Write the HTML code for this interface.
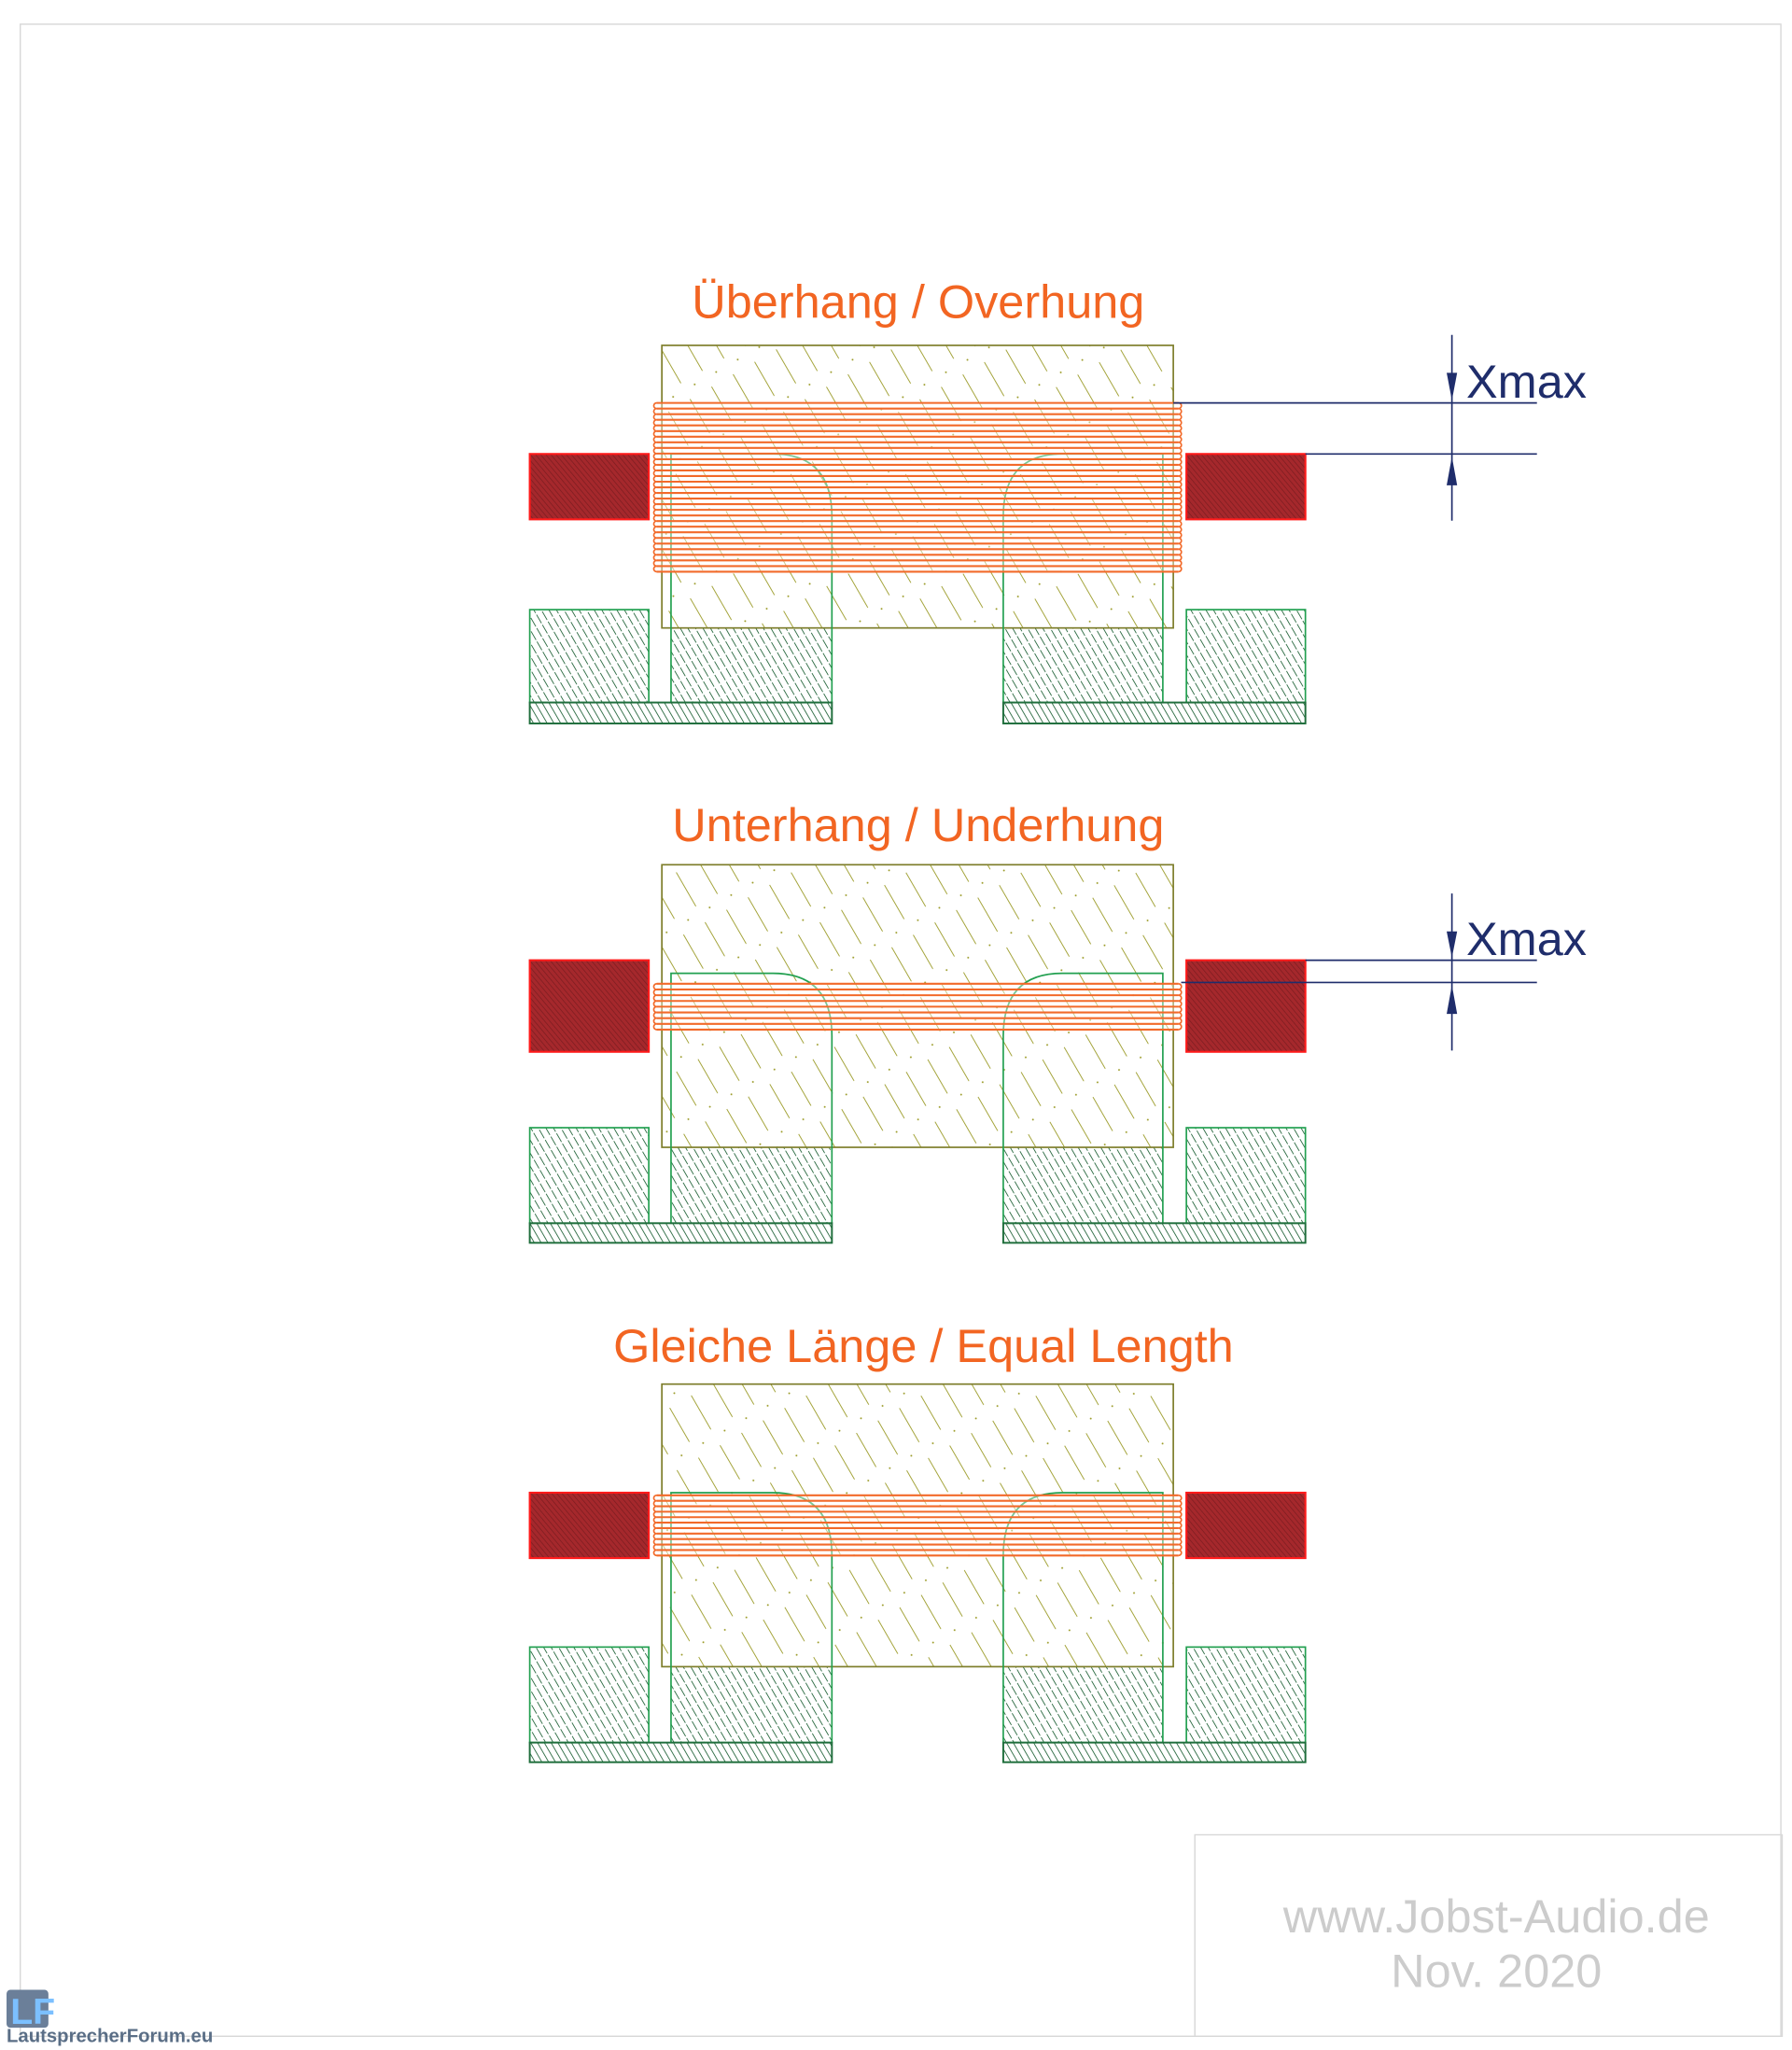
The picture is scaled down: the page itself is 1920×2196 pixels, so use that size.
<!DOCTYPE html>
<html><head><meta charset="utf-8">
<style>
html,body{margin:0;padding:0;background:#fff;}
svg{display:block;}
</style></head>
<body>
<svg id="s" width="1920" height="2196" viewBox="0 0 1370 1567" preserveAspectRatio="none" xmlns="http://www.w3.org/2000/svg">
<defs>
<pattern id="olive" patternUnits="userSpaceOnUse" width="19" height="44" patternTransform="rotate(-30)">
<line x1="0" y1="0" x2="0" y2="30" stroke="#9c9c2a" stroke-width="1.3"/>
<circle cx="9" cy="36" r="0.7" fill="#9c9c2a"/>
</pattern>
<pattern id="green" patternUnits="userSpaceOnUse" width="5" height="9" patternTransform="rotate(-30)">
<line x1="0" y1="0" x2="0" y2="7.5" stroke="#1a5e32" stroke-width="1.2"/>
</pattern>
<pattern id="green2" patternUnits="userSpaceOnUse" width="4.5" height="9" patternTransform="rotate(-30)">
<line x1="0" y1="0" x2="0" y2="9" stroke="#1a5e32" stroke-width="1.2"/>
</pattern>
<pattern id="red" patternUnits="userSpaceOnUse" width="3" height="3" patternTransform="rotate(-40)">
<rect width="3" height="3" fill="#a5282c"/>
<line x1="0" y1="0" x2="0" y2="3" stroke="#7a1c20" stroke-width="1"/>
</pattern>
</defs>
<rect x="0" y="0" width="1370" height="1567" fill="#fff"/>
<rect x="15.5" y="18.5" width="1346" height="1538" fill="none" stroke="#d8d8d8" stroke-width="1"/>
<rect x="913.5" y="1402.5" width="449" height="154" fill="none" stroke="#d8d8d8" stroke-width="1"/>
<g id="d"></g>
<g font-family="'Liberation Sans', sans-serif" font-size="36" fill="#f26522" text-anchor="middle">
<text x="702" y="243">Überhang / Overhung</text>
<text x="702" y="643">Unterhang / Underhung</text>
<text x="706" y="1041">Gleiche Länge / Equal Length</text>
</g>
<g font-family="'Liberation Sans', sans-serif" font-size="36" fill="#1f2d6b">
<text x="1121" y="304">Xmax</text>
<text x="1121" y="730">Xmax</text>
</g>
<g stroke="#1f2d6b" stroke-width="1.2" fill="none">
<line x1="897" y1="308" x2="1175" y2="308"/>
<line x1="998" y1="347" x2="1175" y2="347"/>
<line x1="1110" y1="256" x2="1110" y2="398"/>
<line x1="998" y1="734" x2="1175" y2="734"/>
<line x1="903" y1="751" x2="1175" y2="751"/>
<line x1="1110" y1="683" x2="1110" y2="803"/>
</g>
<g fill="#1f2d6b">
<polygon points="1106,285 1114,285 1110,306"/>
<polygon points="1106,371 1114,371 1110,349"/>
<polygon points="1106,712 1114,712 1110,732"/>
<polygon points="1106,775 1114,775 1110,753"/>
</g>
<g font-family="'Liberation Sans', sans-serif" font-size="36" fill="#cccccc" text-anchor="middle">
<text x="1144" y="1477">www.Jobst-Audio.de</text>
<text x="1144" y="1519">Nov. 2020</text>
</g>
<rect x="5" y="1521" width="32" height="29" rx="3" fill="#6b7f99"/>
<text x="8" y="1547" font-family="'Liberation Sans', sans-serif" font-weight="bold" font-size="28" fill="#7cc0ff">LF</text>
<text x="5" y="1561" font-family="'Liberation Sans', sans-serif" font-weight="bold" font-size="14.5" fill="#5a6e86">LautsprecherForum.eu</text>
</svg>
<script>
var g=document.getElementById('d');var h='';
var D=[[264,480,347,397,308,437,347,466,537,553],[661,877,734,804,752,787,744,862,935,950],[1058,1274,1141,1191,1143,1189,1141,1259,1332,1347]];
D.forEach(function(p){
var pt=p[0],pb=p[1],mt=p[2],mb=p[3],ct=p[4],cb=p[5],po=p[6],ot=p[7],bt=p[8],bb=p[9];
var L='M513,'+bt+' V'+po+' H591 Q636,'+po+' 636,'+(po+48)+' V'+bt+' Z';
var R='M889,'+bt+' V'+po+' H812 Q767,'+po+' 767,'+(po+48)+' V'+bt+' Z';
h+='<path d="'+L+'" fill="url(#green)"/><path d="'+R+'" fill="url(#green)"/>';
h+='<rect x="506" y="'+pt+'" width="391" height="'+(pb-pt)+'" fill="#fff"/>';
h+='<rect x="506" y="'+pt+'" width="391" height="'+(pb-pt)+'" fill="url(#olive)" stroke="#7d7d2a" stroke-width="1.2"/>';
h+='<path d="'+L+'" fill="none" stroke="#22a050" stroke-width="1.2"/><path d="'+R+'" fill="none" stroke="#22a050" stroke-width="1.2"/>';
var n=Math.max(2,Math.round((cb-ct)/4.3));var st=(cb-ct)/n;
h+='<rect x="500" y="'+ct+'" width="403" height="'+(cb-ct)+'" fill="#fff" fill-opacity="0.4"/>';
for(var i=0;i<=n;i++){var y=ct+i*st;h+='<line x1="502" y1="'+y+'" x2="901" y2="'+y+'" stroke="#f26a2a" stroke-width="1.5"/>';
if(i<n){h+='<path d="M502,'+y+' A2.2,'+(st/2)+' 0 0 0 502,'+(y+st)+'" fill="none" stroke="#f26a2a" stroke-width="1.2"/>';
h+='<path d="M901,'+y+' A2.2,'+(st/2)+' 0 0 1 901,'+(y+st)+'" fill="none" stroke="#f26a2a" stroke-width="1.2"/>';}}
h+='<rect x="405" y="'+mt+'" width="91" height="'+(mb-mt)+'" fill="url(#red)" stroke="#ff1a1a" stroke-width="1.5"/>';
h+='<rect x="907" y="'+mt+'" width="91" height="'+(mb-mt)+'" fill="url(#red)" stroke="#ff1a1a" stroke-width="1.5"/>';
h+='<rect x="405" y="'+ot+'" width="91" height="'+(bt-ot)+'" fill="url(#green)" stroke="#22a050" stroke-width="1.2"/>';
h+='<rect x="907" y="'+ot+'" width="91" height="'+(bt-ot)+'" fill="url(#green)" stroke="#22a050" stroke-width="1.2"/>';
h+='<rect x="405" y="'+bt+'" width="231" height="'+(bb-bt)+'" fill="url(#green2)" stroke="#1f6e3c" stroke-width="1.4"/>';
h+='<rect x="767" y="'+bt+'" width="231" height="'+(bb-bt)+'" fill="url(#green2)" stroke="#1f6e3c" stroke-width="1.4"/>';
});
g.innerHTML=h;
</script>
</body></html>
